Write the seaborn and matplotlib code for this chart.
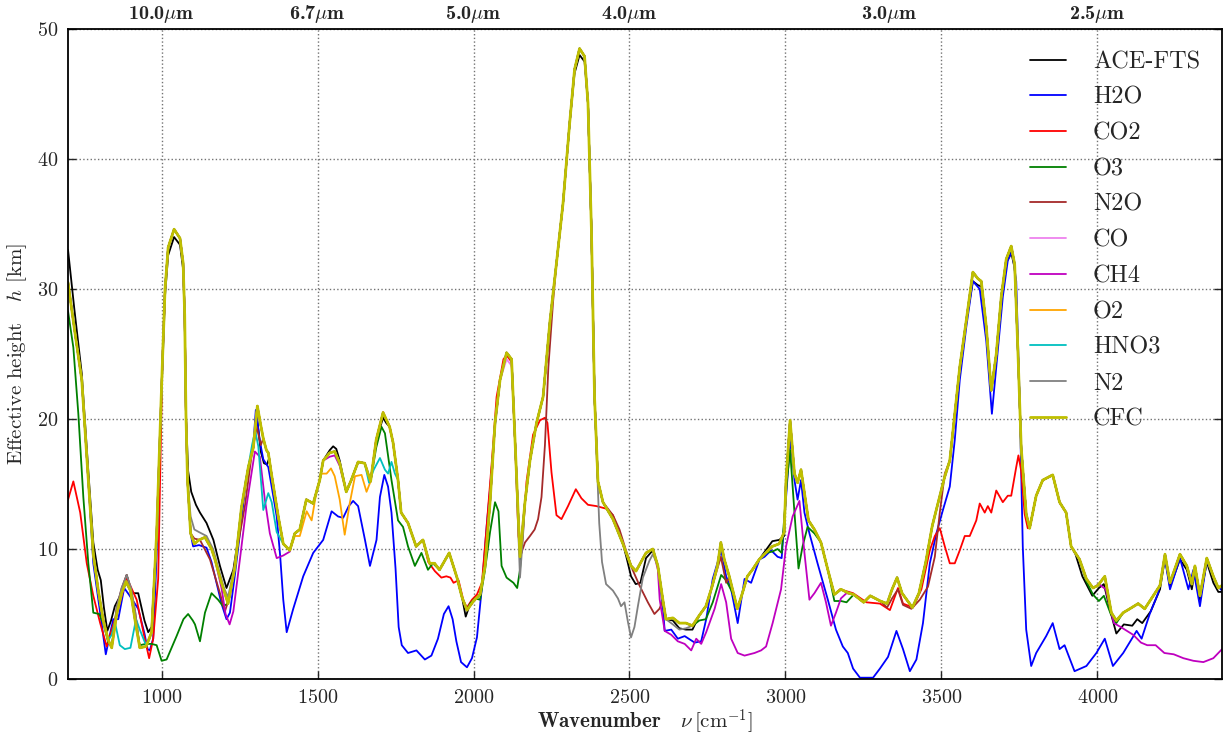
import matplotlib
matplotlib.use("Agg")
import matplotlib.pyplot as plt
import seaborn as sns

# CFC curve (topmost, all gases): wavenumber [cm-1], height [km]
cfc_nu = [700, 720, 744, 765, 781, 797, 813, 829, 840, 856, 872, 886, 900, 915, 930, 950, 968, 984,
          1002, 1011, 1021, 1040, 1059, 1069, 1074, 1078, 1083, 1093, 1105, 1120, 1139, 1160, 1171,
          1192, 1213, 1235, 1256, 1278, 1294, 1307, 1318, 1326, 1336, 1342, 1352, 1374, 1390, 1411,
          1427, 1443, 1464, 1486, 1507, 1518, 1539, 1555, 1571, 1592, 1608, 1630, 1651, 1670, 1688,
          1710, 1731, 1742, 1758, 1768, 1790, 1816, 1838, 1859, 1875, 1891, 1922, 1947, 1963, 1979,
          2000, 2021, 2037, 2053, 2069, 2085, 2106, 2122, 2133, 2144, 2149, 2165, 2181, 2202, 2223,
          2245, 2266, 2287, 2308, 2324, 2340, 2356, 2367, 2378, 2388, 2399, 2415, 2447, 2479, 2505,
          2521, 2553, 2575, 2591, 2607, 2617, 2639, 2660, 2681, 2702, 2724, 2745, 2766, 2782, 2793,
          2804, 2820, 2846, 2862, 2878, 2894, 2916, 2937, 2958, 2980, 2996, 3002, 3015, 3029, 3039,
          3050, 3061, 3074, 3093, 3114, 3136, 3157, 3178, 3203, 3219, 3251, 3272, 3304, 3326, 3342,
          3358, 3374, 3407, 3428, 3450, 3471, 3492, 3510, 3527, 3543, 3559, 3580, 3601, 3617, 3628,
          3644, 3660, 3676, 3692, 3708, 3724, 3735, 3745, 3756, 3772, 3783, 3804, 3825, 3857, 3879,
          3900, 3916, 3943, 3965, 3986, 4002, 4024, 4045, 4061, 4083, 4104, 4131, 4152, 4179, 4201,
          4217, 4233, 4265, 4287, 4303, 4313, 4329, 4351, 4372, 4388, 4400]
cfc_h = [30.5, 27.0, 23.0, 15.3, 9.6, 6.8, 4.5, 3.0, 2.4, 5.0, 6.6, 7.5, 6.8, 4.5, 2.4, 2.5, 3.6, 11.2,
         24.0, 30.0, 33.2, 34.6, 33.9, 32.0, 28.0, 20.4, 15.3, 11.2, 10.4, 10.7, 10.9, 10.0, 9.2,
         7.4, 5.8, 8.6, 13.2, 16.3, 17.8, 21.0, 19.5, 18.5, 17.6, 17.4, 15.8, 12.5, 10.4, 9.9,
         11.2, 11.5, 13.8, 13.5, 15.3, 16.8, 17.4, 17.5, 16.6, 14.4, 15.3, 16.7, 16.6, 15.2, 18.4,
         20.5, 19.4, 18.2, 15.3, 12.8, 12.0, 10.2, 10.7, 8.9, 8.9, 8.4, 9.7, 7.8, 6.3, 5.3,
         6.0, 6.5, 8.7, 13.6, 19.7, 23.0, 25.1, 24.6, 18.4, 12.0, 9.4, 13.6, 16.8, 19.7, 21.7,
         27.5, 32.0, 36.6, 42.7, 46.9, 48.5, 47.9, 44.3, 34.6, 21.7, 15.2, 13.6, 12.3, 10.4, 8.7,
         8.3, 9.7, 10.0, 8.7, 6.1, 4.6, 4.7, 4.3, 4.3, 4.1, 4.9, 5.6, 7.2, 8.7, 10.5,
         9.2, 7.9, 5.4, 6.6, 7.9, 8.4, 9.2, 9.7, 10.2, 10.4, 11.3, 15.3, 19.9, 15.8, 15.1,
         16.1, 14.3, 12.2, 11.5, 10.5, 8.4, 6.5, 6.9, 6.6, 6.5, 5.9, 6.4, 6.0, 5.8, 6.9,
         7.8, 6.6, 5.5, 6.6, 9.0, 11.8, 13.8, 15.5, 16.8, 20.4, 24.0, 27.6, 31.3, 30.8, 30.6,
         27.1, 22.2, 25.0, 29.4, 32.3, 33.3, 31.9, 25.5, 17.8, 12.7, 11.6, 14.1, 15.3, 15.7, 13.6,
         12.8, 10.2, 9.2, 7.7, 7.0, 7.2, 7.9, 5.1, 4.5, 5.1, 5.4, 5.8, 5.4, 6.4, 7.2,
         9.6, 7.4, 9.6, 8.7, 7.3, 8.7, 6.4, 9.3, 7.9, 7.0, 7.2]

# Where another curve leaves the CFC curve, its own readings: (wavenumbers, heights)
ace_segments = [
    ([700, 720, 744, 765, 781, 795, 805, 815, 826, 838, 850, 865, 888, 905, 925, 945, 957, 968, 984,
      1002, 1011, 1021, 1040, 1059, 1069, 1074, 1078, 1085, 1095, 1110, 1123, 1144, 1166, 1187,
      1208, 1230, 1251, 1266],
     [33.0, 28.5, 23.5, 16.0, 10.5, 8.4, 7.6, 5.5, 3.7, 4.5, 5.6, 6.3, 8.0, 6.6, 6.6, 4.5, 3.6, 4.0, 11.0,
      23.5, 29.5, 32.6, 34.0, 33.4, 31.5, 27.5, 20.4, 16.0, 14.4, 13.4, 12.8, 12.0, 10.7, 8.7,
      7.0, 8.4, 11.7, 14.5]),
    ([1294, 1305, 1318, 1328, 1338, 1345, 1352], [17.8, 20.3, 17.5, 16.6, 16.5, 17.0, 15.8]),
    ([1539, 1550, 1560, 1571], [17.6, 17.9, 17.7, 16.8]),
    ([1700, 1710, 1720], [19.3, 20.1, 19.7]),
    ([1963, 1975, 1985, 2000], [6.3, 4.8, 5.5, 6.0]),
    ([2324, 2340, 2356], [46.6, 48.0, 47.5]),
    ([2479, 2490, 2505, 2520, 2535, 2553, 2575], [10.4, 9.4, 7.9, 7.3, 7.4, 9.3, 9.9]),
    ([2639, 2660, 2681, 2702], [4.5, 3.9, 3.8, 3.8]),
    ([2937, 2958, 2980, 2996], [9.9, 10.6, 10.7, 11.0]),
    ([3601, 3617, 3628], [30.6, 30.3, 30.2]),
    ([3708, 3724, 3735], [32.0, 32.8, 31.6]),
    ([3916, 3930, 3952, 3984, 4005, 4021, 4043, 4061, 4085, 4112, 4128, 4144, 4171, 4192, 4201],
     [10.2, 9.6, 7.9, 6.4, 7.0, 7.3, 5.1, 3.5, 4.2, 4.1, 4.6, 4.3, 5.2, 6.4, 6.9]),
    ([4217, 4233, 4265, 4287, 4303, 4313, 4329, 4351, 4372, 4388, 4400],
     [9.3, 7.1, 9.2, 8.4, 6.9, 8.4, 6.1, 9.0, 7.4, 6.7, 6.7]),
]

h2o_segments = [
    ([781, 803, 821, 835, 845, 861, 880, 895, 925, 945, 955, 962, 973, 984],
     [8.9, 5.1, 1.9, 3.5, 4.6, 4.6, 7.0, 6.5, 5.4, 3.5, 2.3, 2.2, 3.1, 9.5]),
    ([1093, 1101, 1120, 1144, 1160, 1176, 1192, 1208, 1219, 1235, 1251, 1270, 1294, 1302, 1315,
      1326, 1342, 1355, 1369, 1380, 1390, 1401, 1422, 1454, 1486, 1518, 1545, 1566, 1582, 1600,
      1614, 1630, 1652, 1668, 1689, 1700, 1714, 1726, 1737, 1750, 1760, 1770, 1790, 1817, 1844,
      1865, 1886, 1905, 1920, 1933, 1945, 1960, 1979, 1995, 2011, 2027, 2043, 2053, 2069],
     [11.2, 10.2, 10.3, 10.1, 9.0, 7.4, 5.8, 4.6, 5.1, 8.0, 11.2, 15.3, 18.0, 20.7, 18.3,
      16.9, 16.3, 14.5, 12.5, 9.5, 6.1, 3.6, 5.4, 7.9, 9.7, 10.7, 12.9, 12.5, 12.4, 13.3,
      13.7, 13.3, 10.7, 8.7, 10.7, 14.0, 15.7, 14.8, 12.8, 8.5, 4.0, 2.6, 2.0, 2.2, 1.5,
      1.8, 3.1, 5.0, 5.6, 4.6, 2.9, 1.3, 0.9, 1.6, 3.2, 7.1, 12.0, 14.6, 19.5]),
    ([2607, 2613, 2634, 2655, 2677, 2709, 2730, 2746, 2767, 2794, 2810, 2826, 2847, 2869, 2890,
      2917, 2933, 2954, 2975, 2988, 3002, 3016, 3029, 3039, 3050, 3061, 3077, 3103, 3136, 3162,
      3184, 3200, 3217, 3239, 3281, 3303, 3329, 3356, 3377, 3399, 3420, 3441, 3463, 3484, 3505,
      3527, 3543, 3559, 3580, 3601, 3623, 3644, 3662, 3676, 3697, 3713, 3727, 3740, 3751, 3761,
      3772, 3788, 3804, 3836, 3857, 3879, 3895, 3927, 3965, 3997, 4024, 4050, 4083, 4126, 4142,
      4168, 4195, 4217, 4233, 4265, 4292, 4308, 4329, 4351, 4383, 4400],
     [5.5, 3.7, 3.8, 3.1, 3.3, 2.8, 2.9, 4.6, 7.7, 9.9, 7.9, 6.9, 4.3, 7.7, 7.4,
      9.2, 9.4, 9.9, 9.4, 9.3, 14.0, 18.6, 15.3, 13.8, 15.3, 12.8, 11.2, 8.9, 6.1, 3.8,
      2.5, 2.0, 0.8, 0.1, 0.1, 0.8, 1.7, 3.7, 2.3, 0.6, 1.5, 4.3, 8.9, 11.2, 13.0,
      14.8, 18.4, 23.0, 27.1, 30.6, 30.0, 26.0, 20.4, 24.0, 29.4, 32.2, 32.9, 30.6, 21.6, 10.2,
      3.8, 1.0, 2.0, 3.3, 4.3, 2.3, 2.6, 0.6, 1.0, 2.0, 3.1, 1.0, 2.0, 3.7, 3.1,
      5.0, 6.6, 9.2, 6.9, 9.3, 6.9, 8.4, 5.6, 9.1, 7.2, 6.8]),
]

co2_segments = [
    ([700, 717, 739, 760, 781, 803, 824, 840, 861, 888, 920, 946, 960, 973, 989],
     [13.8, 15.2, 12.8, 8.9, 6.4, 4.3, 2.5, 3.8, 5.4, 7.8, 6.1, 3.1, 1.6, 3.1, 7.7]),
    ([1838, 1855, 1876, 1897, 1913, 1926, 1936, 1952, 1968, 1979, 1995, 2011, 2027, 2043, 2059,
      2074, 2096, 2106, 2122, 2133, 2144, 2154, 2170, 2191, 2213, 2229, 2237, 2250, 2266, 2282,
      2303, 2328, 2346, 2367, 2394, 2426, 2447, 2465],
     [10.7, 9.0, 8.3, 7.8, 7.9, 7.8, 7.4, 7.6, 6.0, 5.5, 6.1, 6.5, 7.4, 12.0, 16.8,
      21.7, 24.6, 24.9, 24.4, 18.4, 11.0, 9.7, 15.2, 18.8, 19.9, 20.1, 19.7, 15.9, 12.6, 12.3,
      13.3, 14.6, 13.9, 13.4, 13.3, 13.1, 12.6, 11.4]),
    ([3157, 3175, 3217, 3260, 3303, 3335, 3361, 3377, 3409, 3436, 3463, 3479, 3495, 3511, 3527,
      3543, 3559, 3575, 3591, 3612, 3623, 3639, 3649, 3660, 3676, 3697, 3713, 3724, 3740, 3747,
      3756, 3767, 3777, 3783],
     [6.5, 6.9, 6.6, 5.9, 5.8, 5.3, 7.0, 5.8, 5.5, 6.9, 9.9, 11.0, 11.6, 10.2, 8.9,
      8.9, 9.9, 11.0, 11.0, 12.2, 13.5, 12.8, 13.3, 12.8, 14.5, 13.6, 14.1, 14.1, 16.3, 17.2,
      16.0, 12.7, 11.6, 11.6]),
]

o3_segments = [
    ([700, 717, 733, 749, 765, 781, 800, 813, 829, 840, 856, 872, 886, 900, 915, 930, 950, 968,
      984, 1000, 1016, 1048, 1070, 1085, 1100, 1107, 1123, 1139, 1160, 1181, 1197, 1213],
     [28.3, 25.5, 20.4, 14.0, 8.9, 5.1, 5.0, 4.3, 2.8, 2.6, 5.0, 6.6, 7.4, 6.8, 4.5, 2.6, 2.7, 2.7,
      2.6, 1.4, 1.5, 3.3, 4.6, 5.0, 4.5, 4.2, 2.9, 5.1, 6.6, 6.1, 5.6, 5.8]),
    ([1688, 1705, 1716, 1737, 1758, 1774, 1790, 1812, 1833, 1854, 1870, 1891],
     [17.8, 19.4, 18.9, 15.3, 12.2, 11.7, 10.2, 8.7, 9.7, 8.4, 8.9, 8.4]),
    ([1963, 1979, 1989, 2005, 2021, 2037, 2053, 2069, 2080, 2090, 2106, 2128, 2140, 2149, 2165],
     [6.3, 5.3, 5.8, 6.2, 6.1, 8.4, 11.3, 13.6, 12.9, 8.7, 7.8, 7.4, 7.0, 8.4, 13.6]),
    ([2724, 2745, 2767, 2794, 2810, 2831, 2846], [4.5, 4.6, 5.9, 8.0, 7.6, 6.6, 5.4]),
    ([2958, 2975, 2988, 3005, 3015, 3029, 3042, 3055, 3071, 3093, 3114, 3136, 3157, 3178, 3196, 3219],
     [9.8, 10.0, 9.7, 15.3, 17.6, 12.8, 8.5, 10.2, 11.7, 11.2, 10.5, 8.4, 6.0, 6.0, 5.9, 6.5]),
    ([3965, 3986, 4005, 4021, 4043, 4061], [7.5, 6.5, 6.0, 6.4, 5.0, 4.3]),
]

n2o_segments = [
    ([856, 872, 888, 902, 915], [5.5, 7.0, 8.0, 6.8, 5.2]),
    ([1105, 1123, 1155, 1187, 1203, 1219, 1240, 1267, 1288, 1305, 1318],
     [10.8, 10.7, 9.2, 6.6, 5.2, 6.4, 9.7, 13.3, 17.1, 19.4, 18.0]),
    ([2149, 2165, 2181, 2196, 2207, 2218, 2229, 2240, 2255, 2266],
     [9.4, 10.5, 11.0, 11.5, 12.3, 14.0, 18.0, 24.0, 29.0, 32.0]),
    ([2447, 2468, 2490, 2510, 2532, 2559, 2580, 2596, 2607],
     [12.6, 11.5, 9.8, 8.4, 7.2, 5.9, 5.0, 5.4, 6.0]),
    ([2782, 2793, 2810, 2820], [8.5, 9.4, 7.4, 7.8]),
    ([3326, 3342, 3361, 3377, 3404, 3431, 3457, 3479, 3495, 3511, 3527],
     [5.5, 6.2, 6.9, 5.7, 5.4, 6.1, 7.1, 9.4, 12.8, 15.8, 16.8]),
]

co_segments = [
    ([2106, 2122, 2133, 2144, 2149, 2165], [24.6, 24.1, 18.4, 12.3, 10.0, 13.6]),
]

ch4_segments = [
    ([1192, 1205, 1218, 1230, 1251, 1272, 1299, 1315, 1331, 1347, 1369, 1390, 1411],
     [7.0, 5.0, 4.2, 5.2, 9.2, 13.3, 17.5, 17.1, 13.8, 11.2, 9.3, 9.5, 9.8]),
    ([1539, 1555, 1571], [17.1, 17.2, 16.4]),
    ([2591, 2597, 2613, 2634, 2655, 2677, 2698, 2714, 2730, 2746, 2773, 2794, 2810, 2826, 2847,
      2869, 2901, 2922, 2938, 2959, 2986, 3002, 3023, 3045, 3061, 3077, 3093, 3114, 3130, 3146,
      3162, 3178, 3196, 3219],
     [8.4, 6.1, 3.7, 3.4, 2.9, 2.7, 2.2, 3.1, 2.7, 3.6, 5.4, 7.3, 5.9, 3.1, 2.0,
      1.8, 2.0, 2.2, 2.5, 4.3, 6.9, 10.2, 12.5, 13.7, 9.7, 6.1, 6.6, 7.4, 5.9, 4.1,
      5.1, 6.2, 6.6, 6.5]),
    ([3986, 4005, 4027, 4053, 4075, 4095, 4115, 4140, 4160, 4187, 4215, 4245, 4276, 4308, 4340,
      4372, 4400],
     [7.0, 7.3, 6.9, 4.3, 4.0, 3.7, 3.4, 2.8, 2.6, 2.6, 2.0, 1.9, 1.6, 1.4, 1.3,
      1.6, 2.3]),
]

o2_segments = [
    ([1411, 1427, 1443, 1465, 1481, 1497, 1513, 1529, 1543, 1555, 1571, 1587, 1603, 1620, 1641,
      1657, 1670, 1688],
     [9.9, 11.0, 11.0, 12.9, 12.2, 14.5, 15.8, 15.8, 16.2, 15.6, 13.8, 11.1, 13.5, 15.6, 15.7,
      14.4, 15.2, 18.4]),
]

hno3_segments = [
    ([829, 840, 850, 866, 882, 900, 918, 930, 950, 960],
     [3.0, 3.4, 4.4, 2.6, 2.3, 2.4, 4.6, 3.8, 2.6, 3.0]),
    ([1278, 1290, 1300, 1310, 1326, 1342, 1353, 1369, 1390],
     [16.3, 18.0, 19.1, 17.9, 13.0, 14.3, 13.6, 11.3, 10.4]),
    ([1651, 1665, 1680, 1700, 1716, 1726, 1737, 1748, 1758],
     [16.6, 15.1, 16.1, 17.0, 16.1, 15.8, 16.7, 15.8, 15.3]),
]

n2_segments = [
    ([856, 872, 888, 902, 915], [5.5, 7.0, 8.0, 7.0, 5.2]),
    ([1083, 1093, 1105, 1120, 1144, 1165, 1180, 1200, 1213, 1235, 1256],
     [15.3, 12.5, 11.5, 11.3, 11.0, 10.0, 8.7, 7.0, 6.3, 8.8, 13.2]),
    ([2144, 2149, 2160], [11.0, 7.8, 11.5]),
    ([2388, 2395, 2403, 2412, 2425, 2447, 2463, 2473, 2484, 2495, 2505, 2516, 2527, 2543, 2564, 2575],
     [21.7, 17.0, 12.0, 9.0, 7.3, 6.8, 6.2, 5.6, 5.9, 4.4, 3.2, 4.0, 5.6, 7.8, 9.1, 9.6]),
    ([2639, 2660, 2681], [4.2, 3.8, 3.9]),
]

names = ["ACE-FTS", "H2O", "CO2", "O3", "N2O", "CO", "CH4", "O2", "HNO3", "N2", "CFC"]
colors = ["k", "b", "r", "g", "brown", "violet", "m", "orange", "c", "gray", "y"]
segments = [ace_segments, h2o_segments, co2_segments, o3_segments, n2o_segments, co_segments,
            ch4_segments, o2_segments, hno3_segments, n2_segments, []]

# top axis: wavelength labels
top_nu = [1000, 1500, 2000, 2500, 10000 / 3, 4000]


def splice(base_nu, base_h, segs):
    nu, h = list(base_nu), list(base_h)
    for seg_nu, seg_h in segs:
        keep = [(a, b) for a, b in zip(nu, h) if a < seg_nu[0] or a > seg_nu[-1]]
        pts = sorted(keep + list(zip(seg_nu, seg_h)))
        nu = [p[0] for p in pts]
        h = [p[1] for p in pts]
    return nu, h


sns.set_style("ticks")
plt.rcParams.update({
    "font.family": "cmr10",
    "mathtext.fontset": "cm",
    "axes.formatter.use_mathtext": True,
    "axes.unicode_minus": False,
})

fig = plt.figure(figsize=(12.26, 7.37), dpi=100)
ax = fig.add_axes([0.0555, 0.0787, 0.9413, 0.8819])

for name, color, segs in zip(names, colors, segments):
    nu, h = splice(cfc_nu, cfc_h, segs)
    lw = 2.0 if name == "CFC" else 1.3
    sns.lineplot(x=nu, y=h, color=color, lw=lw, label=name, ax=ax,
                 estimator=None, sort=False)

ax.set_xlim(700, 4400)
ax.set_ylim(0, 50)
ax.set_xticks([1000, 1500, 2000, 2500, 3000, 3500, 4000])
ax.set_yticks([0, 10, 20, 30, 40, 50])
ax.grid(True, linestyle=":", color="0.45", linewidth=1.0)
ax.set_axisbelow(True)
ax.tick_params(direction="in", top=True, right=True, length=6, width=1,
               labelsize=14.5, pad=7)
for sp in ax.spines.values():
    sp.set_linewidth(1.3)
    sp.set_color("k")

ax.set_xlabel(r"Wavenumber   $\nu\,[\mathrm{cm}^{-1}]$", fontsize=15, fontfamily="cmb10", labelpad=0)
ax.set_ylabel(r"Effective height   $h$ [km]", fontsize=15, labelpad=6)

ax2 = ax.twiny()
ax2.set_xlim(ax.get_xlim())
ax2.set_xticks(top_nu)
ax2.set_xticklabels([f"{1e4 / v:.1f}" + r"$\mu$m" for v in top_nu], fontfamily="cmb10", fontsize=14.5)
ax2.tick_params(length=0, pad=3)
for sp in ax2.spines.values():
    sp.set_visible(False)

ax.legend(loc="upper right", frameon=False, fontsize=17.5, handlelength=1.5,
          handletextpad=1.1, labelspacing=0.56)

fig.savefig("out.png", dpi=100)
